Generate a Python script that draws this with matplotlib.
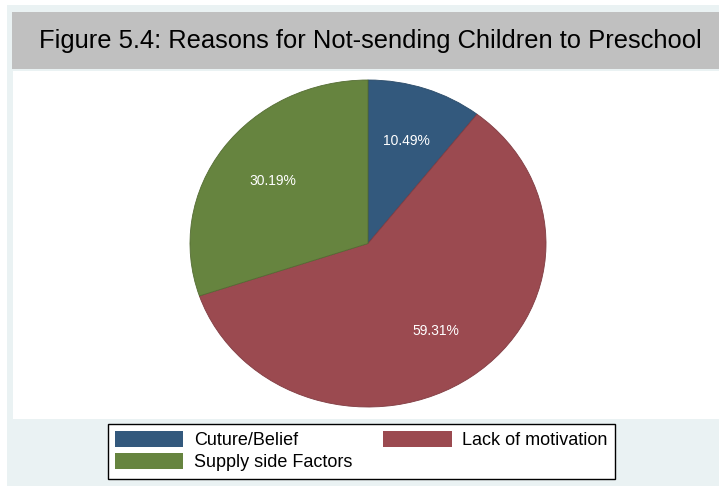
import matplotlib
matplotlib.use("Agg")
import matplotlib.pyplot as plt
from matplotlib.patches import Rectangle

plt.rcParams['font.family'] = ['Liberation Sans', 'DejaVu Sans']

categories = ["Cuture/Belief", "Lack of motivation", "Supply side Factors"]
values = [10.49, 59.31, 30.19]
colors = ["#33597D", "#9B4A50", "#66843F"]
edge_colors = ["#2A4A68", "#803C42", "#546C33"]
title = "Figure 5.4: Reasons for Not-sending Children to Preschool"

W, H = 719, 486
fig = plt.figure(figsize=(W / 100, H / 100), dpi=100)
fig.patch.set_facecolor("white")

def fx(px):
    return px / W

def fy(py):
    return 1 - py / H

# outer light background
fig.patches.append(Rectangle((fx(7), 0), 1 - fx(7), fy(5), transform=fig.transFigure,
                             facecolor="#EAF2F3", edgecolor="none", zorder=-3))
# title band
fig.patches.append(Rectangle((fx(12), fy(69)), 1 - fx(12), (69 - 12) / H, transform=fig.transFigure,
                             facecolor="#C0C0C0", edgecolor="none", zorder=-2))
# white plot region
fig.patches.append(Rectangle((fx(13), fy(419)), 1 - fx(13), (419 - 71) / H, transform=fig.transFigure,
                             facecolor="white", edgecolor="none", zorder=-2))

fig.text(fx(370), fy(41), title, ha="center", va="center", fontsize=18.4, color="black", zorder=3)

cx, cy, rx, ry = 368, 243.5, 178, 163.5
ax = fig.add_axes([fx(cx - rx), fy(cy + ry), 2 * rx / W, 2 * ry / H])
ax.set_facecolor("none")
ax.set_zorder(2)

it = iter(values)
wedges, texts, autotexts = ax.pie(
    values, colors=colors, startangle=90, counterclock=False,
    autopct=lambda p: f"{next(it):.2f}%", pctdistance=0.66,
    textprops=dict(color="white", fontsize=10),
    wedgeprops=dict(linewidth=0.6),
)
for w, ec in zip(wedges, edge_colors):
    w.set_edgecolor(ec)
ax.set_aspect("auto")
ax.set_xlim(-1, 1)
ax.set_ylim(-1, 1)
ax.axis("off")

order = [0, 2, 1]
leg = fig.legend([wedges[i] for i in order], [categories[i] for i in order],
                 ncol=2, loc="upper left", bbox_to_anchor=(fx(108), fy(424)),
                 bbox_transform=fig.transFigure, borderaxespad=0,
                 fontsize=13, frameon=True, fancybox=False, framealpha=1,
                 edgecolor="black", facecolor="white",
                 handlelength=3.78, handleheight=1.0, handletextpad=0.6,
                 columnspacing=1.7, labelspacing=0.2, borderpad=0.4)
leg.get_frame().set_linewidth(1.0)
leg.set_zorder(5)
for h in leg.legend_handles:
    h.set_linewidth(0)

fig.savefig("out.png", dpi=100, facecolor=fig.get_facecolor())
